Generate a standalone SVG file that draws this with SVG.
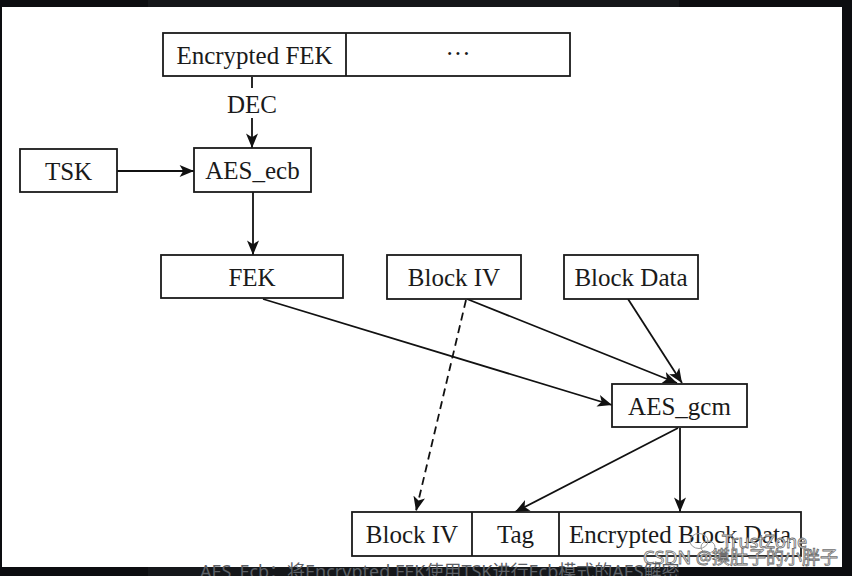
<svg xmlns="http://www.w3.org/2000/svg" width="852" height="576" viewBox="0 0 852 576">
<defs>
<style>
.box{fill:#fff;stroke:#1a1a1a;stroke-width:1.8}
.lbl{font-family:"Liberation Serif","Times New Roman",serif;font-size:25px;fill:#1a1a1a;text-anchor:middle}
.edge{fill:none;stroke:#111;stroke-width:1.8}
.wm{font-family:"Noto Sans","Noto Sans CJK SC",sans-serif;font-size:18px;fill:#fff;stroke:#6e6e6e;stroke-width:0.8}
</style>
<marker id="arr" viewBox="0 0 12 10" refX="12" refY="5" markerWidth="15" markerHeight="12" markerUnits="userSpaceOnUse" orient="auto">
<path d="M0,0 L12,5 L0,10 L3,5 Z" fill="#111"/>
</marker>
</defs>
<rect x="0" y="0" width="852" height="576" fill="#0c0d10"/>
<rect x="148" y="0" width="531" height="7" fill="#15171a"/>
<rect x="148" y="567" width="531" height="9" fill="#15171a"/>
<rect x="2" y="7" width="840" height="560" fill="#fff"/>

<g id="connectors">
<line class="edge" x1="252" y1="77" x2="252" y2="88"/>
<line class="edge" x1="252" y1="118" x2="252" y2="148" marker-end="url(#arr)"/>
<line class="edge" x1="117" y1="171" x2="194" y2="171" marker-end="url(#arr)"/>
<line class="edge" x1="253" y1="192" x2="253" y2="255" marker-end="url(#arr)"/>
<line class="edge" x1="263" y1="299" x2="612" y2="405" marker-end="url(#arr)"/>
<line class="edge" x1="467" y1="299" x2="677" y2="383" marker-end="url(#arr)"/>
<line class="edge" x1="628" y1="299" x2="682" y2="383" marker-end="url(#arr)"/>
<line class="edge" x1="466" y1="300" x2="416" y2="511" stroke-dasharray="8,5" marker-end="url(#arr)"/>
<line class="edge" x1="678" y1="428" x2="515" y2="512" marker-end="url(#arr)"/>
<line class="edge" x1="680" y1="428" x2="680" y2="512" marker-end="url(#arr)"/>
<text class="lbl" x="252" y="113">DEC</text>
</g>

<g id="encrypted-header">
<rect class="box" x="163" y="33" width="407" height="43"/>
<line x1="346" y1="33" x2="346" y2="76" stroke="#1a1a1a" stroke-width="1.8"/>
<text class="lbl" x="254.5" y="64">Encrypted FEK</text>
<text class="lbl" x="458" y="62">···</text>
</g>

<g id="tsk">
<rect class="box" x="20" y="149" width="97" height="43"/>
<text class="lbl" x="68.5" y="180">TSK</text>
</g>

<g id="aes-ecb">
<rect class="box" x="194" y="148" width="117" height="44"/>
<text class="lbl" x="252.5" y="179">AES_ecb</text>
</g>

<g id="fek">
<rect class="box" x="161" y="255" width="182" height="43"/>
<text class="lbl" x="252" y="286">FEK</text>
</g>

<g id="block-iv">
<rect class="box" x="387" y="255" width="134" height="44"/>
<text class="lbl" x="454" y="286">Block IV</text>
</g>

<g id="block-data">
<rect class="box" x="564" y="255" width="134" height="44"/>
<text class="lbl" x="631" y="286">Block Data</text>
</g>

<g id="aes-gcm">
<rect class="box" x="612" y="384" width="135" height="43"/>
<text class="lbl" x="679.5" y="415">AES_gcm</text>
</g>

<g id="output-row">
<rect class="box" x="352" y="512" width="449" height="44"/>
<line x1="472" y1="512" x2="472" y2="556" stroke="#1a1a1a" stroke-width="1.8"/>
<line x1="559" y1="512" x2="559" y2="556" stroke="#1a1a1a" stroke-width="1.8"/>
<text class="lbl" x="412" y="543">Block IV</text>
<text class="lbl" x="515.5" y="543">Tag</text>
<text class="lbl" x="680" y="543">Encrypted Block Data</text>
</g>

<g id="watermark">
<ellipse cx="699" cy="541" rx="9" ry="7.5" fill="none" stroke="#999" stroke-width="1"/>
<ellipse cx="708" cy="547" rx="7" ry="6" fill="none" stroke="#999" stroke-width="1"/>
<text class="wm" x="722" y="548">TrustZone</text>
<text class="wm" x="838" y="564" text-anchor="end">CSDN @摸肚子的小胖子</text>
</g>

<text x="200" y="578" font-family="Noto Sans,Noto Sans CJK SC,sans-serif" font-size="18" fill="#5c6066">AES_Ecb：将Encrypted FEK使用TSK进行Ecb模式的AES解密</text>
</svg>
